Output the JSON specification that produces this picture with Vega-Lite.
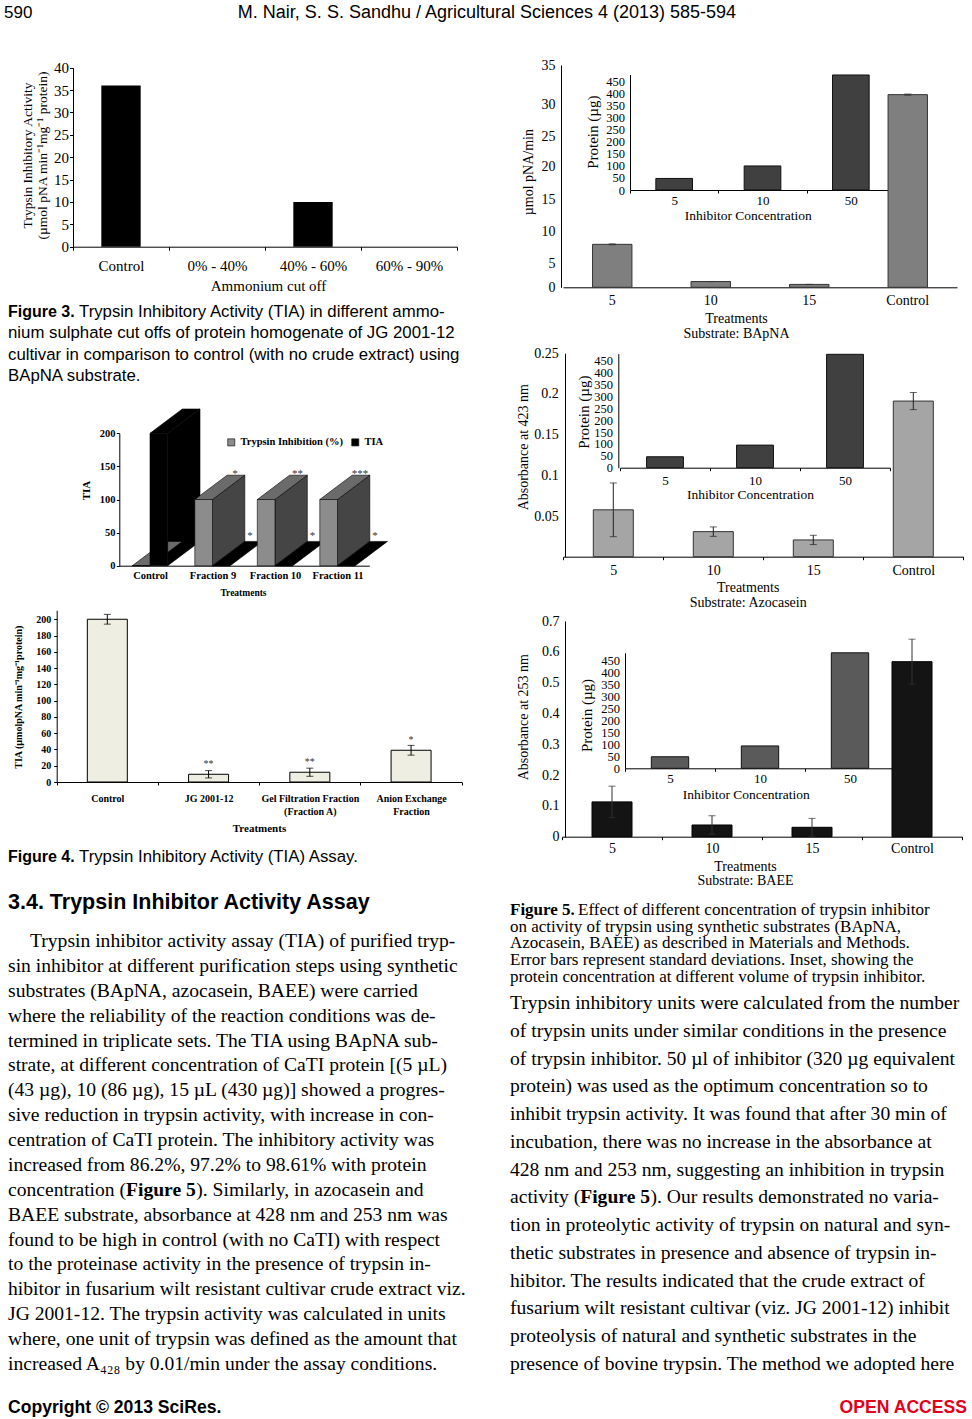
{
"$schema": "https://vega.github.io/schema/vega-lite/v6.json",
"width": 972, "height": 1419,
"autosize": {"type": "none"},
"padding": 0,
"background": "white",
"config": {
 "view": {"stroke": null},
 "axis": {"grid": false, "labelFont": "Liberation Serif", "titleFont": "Liberation Serif", "labelColor": "#000", "titleColor": "#000", "domainColor": "#000", "tickColor": "#000", "titleFontWeight": "normal", "labelOverlap": false, "labelFlush": false, "labelAngle": 0, "domainWidth": 1, "tickWidth": 1, "titlePadding": 0, "titleAnchor": null},
 "text": {"font": "Liberation Serif", "color": "#000"}
},
"resolve": {"scale": {"x": "independent", "y": "independent", "color": "independent", "shape": "independent"}, "axis": {"x": "independent", "y": "independent"}},
"layer": [
 {"data": {"values": [{"text": "590"}]}, "mark": {"type": "text", "align": "left", "baseline": "middle", "font": "Liberation Sans", "fontSize": 17},
  "encoding": {"x": {"datum": 0, "type": "quantitative", "scale": {"domain": [0, 1], "range": [4, 5]}, "axis": null}, "y": {"datum": 0, "type": "quantitative", "scale": {"domain": [0, 1], "range": [13, 14]}, "axis": null}, "text": {"field": "text"}}},
 {"data": {"values": [{"text": "M. Nair, S. S. Sandhu / Agricultural Sciences 4 (2013) 585-594"}]}, "mark": {"type": "text", "align": "center", "baseline": "middle", "font": "Liberation Sans", "fontSize": 18},
  "encoding": {"x": {"datum": 0, "type": "quantitative", "scale": {"domain": [0, 1], "range": [487, 488]}, "axis": null}, "y": {"datum": 0, "type": "quantitative", "scale": {"domain": [0, 1], "range": [13, 14]}, "axis": null}, "text": {"field": "text"}}},

 {"data": {"values": [{"cut": "Control", "tia": 36}, {"cut": "0% - 40%", "tia": 0}, {"cut": "40% - 60%", "tia": 10}, {"cut": "60% - 90%", "tia": 0}]},
  "mark": {"type": "bar", "color": "#000", "width": {"band": 0.41}},
  "encoding": {
   "x": {"field": "cut", "type": "nominal", "sort": null, "scale": {"type": "band", "range": [73, 457], "paddingInner": 0, "paddingOuter": 0},
    "axis": {"orient": "bottom", "offset": -1172.3, "tickBand": "extent", "tickSize": 3.5, "labelFontSize": 15, "labelBaseline": "middle", "labelPadding": 15.5, "title": "Ammonium cut off", "titleFontSize": 15, "titleX": 268, "titleY": 38.3, "titleBaseline": "middle"}},
   "y": {"field": "tia", "type": "quantitative", "scale": {"domain": [0, 40], "range": [246.7, 67.7], "nice": false, "zero": true},
    "axis": {"orient": "left", "offset": -73, "values": [0, 5, 10, 15, 20, 25, 30, 35, 40], "tickSize": 3.5, "labelFontSize": 15, "labelPadding": 1, "title": ["Trypsin Inhibitory Activity", "(µmol pNA min⁻¹mg⁻¹ protein)"], "titleFontSize": 13.5, "titleLineHeight": 15, "titleX": -45.5, "titleY": 155, "titleBaseline": "middle", "titleAngle": -90}}
  }},

 {"data": {"values": [{"text": "Figure 3."}]}, "mark": {"type": "text", "align": "left", "baseline": "middle", "font": "Liberation Sans", "fontSize": 16, "fontWeight": "bold"},
  "encoding": {"x": {"datum": 0, "type": "quantitative", "scale": {"domain": [0, 1], "range": [8, 9]}, "axis": null}, "y": {"datum": 0, "type": "quantitative", "scale": {"domain": [0, 3], "range": [312, 376]}, "axis": null}, "text": {"field": "text"}}},
 {"data": {"values": [{"text": "Trypsin Inhibitory Activity (TIA) in different ammo-"}]}, "mark": {"type": "text", "align": "left", "baseline": "middle", "font": "Liberation Sans", "fontSize": 16.8},
  "encoding": {"x": {"datum": 0, "type": "quantitative", "scale": {"domain": [0, 1], "range": [79, 80]}, "axis": null}, "y": {"datum": 0, "type": "quantitative", "scale": {"domain": [0, 3], "range": [312, 376]}, "axis": null}, "text": {"field": "text"}}},
 {"data": {"values": [{"line": 1, "text": "nium sulphate cut offs of protein homogenate of JG 2001-12"}, {"line": 2, "text": "cultivar in comparison to control (with no crude extract) using"}, {"line": 3, "text": "BApNA substrate."}]},
  "mark": {"type": "text", "align": "left", "baseline": "middle", "font": "Liberation Sans", "fontSize": 16.8},
  "encoding": {"x": {"datum": 0, "type": "quantitative", "scale": {"domain": [0, 1], "range": [8, 9]}, "axis": null}, "y": {"field": "line", "type": "quantitative", "scale": {"domain": [0, 3], "range": [312, 376], "nice": false, "zero": false}, "axis": null}, "text": {"field": "text"}}},

 {"data": {"values": [
   {"treatment": "Control", "series": "Trypsin Inhibition (%)", "value": 0, "sig": ""},
   {"treatment": "Control", "series": "TIA", "value": 200, "sig": ""},
   {"treatment": "Fraction 9", "series": "Trypsin Inhibition (%)", "value": 100, "sig": "*"},
   {"treatment": "Fraction 9", "series": "TIA", "value": 0, "sig": "*"},
   {"treatment": "Fraction 10", "series": "Trypsin Inhibition (%)", "value": 100, "sig": "**"},
   {"treatment": "Fraction 10", "series": "TIA", "value": 0, "sig": "*"},
   {"treatment": "Fraction 11", "series": "Trypsin Inhibition (%)", "value": 100, "sig": "***"},
   {"treatment": "Fraction 11", "series": "TIA", "value": 0, "sig": "*"}]},
  "layer": [
   {"transform": [{"filter": "datum.series === 'Trypsin Inhibition (%)' && datum.value > 0"}],
    "mark": {"type": "point", "filled": true, "size": 4, "opacity": 1, "fill": "#454545", "stroke": "#000", "strokeWidth": 0.6, "xOffset": -9.4},
    "encoding": {
     "x": {"field": "treatment", "type": "nominal", "sort": null, "scale": {"type": "band", "domain": ["Control", "Fraction 9", "Fraction 10", "Fraction 11"], "range": [119.3, 369.3], "paddingInner": 0, "paddingOuter": 0},
      "axis": {"orient": "bottom", "offset": -853.3, "ticks": false, "labelFontWeight": "bold", "labelFontSize": 10.5, "labelBaseline": "middle", "labelPadding": 9.3, "title": "Treatments", "titleFontWeight": "bold", "titleFontSize": 9.5, "titleX": 243, "titleY": 27, "titleBaseline": "middle"}},
     "y": {"field": "value", "type": "quantitative", "scale": {"domain": [0, 200], "range": [565.7, 433.3], "nice": false, "zero": true},
      "axis": {"orient": "left", "offset": -119.3, "values": [0, 50, 100, 150, 200], "tickSize": 3, "labelFontWeight": "bold", "labelFontSize": 10.5, "labelPadding": 1.3, "title": "TIA", "titleFontWeight": "bold", "titleFontSize": 11, "titleX": -32.6, "titleY": 490, "titleBaseline": "middle", "titleAngle": -90}},
     "shape": {"field": "value", "type": "nominal", "scale": {"domain": [100, 200], "range": ["M8.85,0L41.15,-24.3L41.15,41.9L8.85,66.2Z", "M8.85,0L41.15,-24.3L41.15,108.1L8.85,132.4Z"]}, "legend": null}}},
   {"transform": [{"filter": "datum.series === 'TIA' && datum.value > 0"}],
    "mark": {"type": "point", "filled": true, "size": 4, "opacity": 1, "fill": "#000", "stroke": "#000", "strokeWidth": 0.6, "xOffset": 8.3},
    "encoding": {"x": {"field": "treatment", "type": "nominal", "sort": null}, "y": {"field": "value", "type": "quantitative", "title": "TIA"},
     "shape": {"field": "value", "type": "nominal", "legend": null}}},
   {"transform": [{"filter": "datum.series === 'Trypsin Inhibition (%)'"}],
    "mark": {"type": "point", "filled": true, "size": 4, "opacity": 1, "fill": "#6b6b6b", "stroke": "#000", "strokeWidth": 0.6, "xOffset": -9.4, "shape": "M-8.85,0L8.85,0L41.15,-24.3L23.45,-24.3Z"},
    "encoding": {"x": {"field": "treatment", "type": "nominal", "sort": null}, "y": {"field": "value", "type": "quantitative", "title": "TIA"}}},
   {"transform": [{"filter": "datum.series === 'TIA'"}],
    "mark": {"type": "point", "filled": true, "size": 4, "opacity": 1, "fill": "#000", "stroke": "#000", "strokeWidth": 0.6, "xOffset": 8.3, "shape": "M-8.85,0L8.85,0L41.15,-24.3L23.45,-24.3Z"},
    "encoding": {"x": {"field": "treatment", "type": "nominal", "sort": null}, "y": {"field": "value", "type": "quantitative", "title": "TIA"}}},
   {"transform": [{"filter": "datum.series === 'Trypsin Inhibition (%)'"}],
    "mark": {"type": "bar", "width": 17.7, "xOffset": -9.4, "stroke": "#000", "strokeWidth": 0.6},
    "encoding": {"x": {"field": "treatment", "type": "nominal", "sort": null}, "y": {"field": "value", "type": "quantitative", "title": "TIA"},
     "color": {"field": "series", "type": "nominal", "scale": {"domain": ["Trypsin Inhibition (%)", "TIA"], "range": ["#8c8c8c", "#000000"]},
      "legend": {"orient": "none", "legendX": 226, "legendY": 437, "direction": "horizontal", "title": null, "symbolType": "square", "symbolSize": 50, "symbolStrokeColor": "#000", "symbolStrokeWidth": 0.6, "labelFont": "Liberation Serif", "labelFontWeight": "bold", "labelFontSize": 10.5, "labelColor": "#000", "labelOffset": 4, "columnPadding": 6, "labelLimit": 200}}}},
   {"transform": [{"filter": "datum.series === 'TIA'"}],
    "mark": {"type": "bar", "width": 17.7, "xOffset": 8.3, "stroke": "#000", "strokeWidth": 0.6},
    "encoding": {"x": {"field": "treatment", "type": "nominal", "sort": null}, "y": {"field": "value", "type": "quantitative", "title": "TIA"},
     "color": {"field": "series", "type": "nominal"}}},
   {"transform": [{"filter": "datum.series === 'Trypsin Inhibition (%)'"}],
    "mark": {"type": "text", "fontSize": 11, "color": "#333", "dx": 22, "dy": -25.5, "baseline": "middle"},
    "encoding": {"x": {"field": "treatment", "type": "nominal", "sort": null}, "y": {"field": "value", "type": "quantitative", "title": "TIA"}, "text": {"field": "sig"}}},
   {"transform": [{"filter": "datum.series === 'TIA'"}],
    "mark": {"type": "text", "fontSize": 11, "color": "#333", "dx": 37, "dy": -29.7, "baseline": "middle"},
    "encoding": {"x": {"field": "treatment", "type": "nominal", "sort": null}, "y": {"field": "value", "type": "quantitative", "title": "TIA"}, "text": {"field": "sig"}}}
  ]},

 {"data": {"values": [
   {"treatment": "Control", "tia": 200, "sd": 6, "sig": ""},
   {"treatment": "JG 2001-12", "tia": 9.5, "sd": 4.5, "sig": "**"},
   {"treatment": "Gel Filtration Fraction (Fraction A)", "tia": 12, "sd": 5, "sig": "**"},
   {"treatment": "Anion Exchange Fraction", "tia": 39, "sd": 6, "sig": "*"}]},
  "layer": [
   {"mark": {"type": "bar", "fill": "#efeee2", "stroke": "#000", "strokeWidth": 1, "width": {"band": 0.395}},
    "encoding": {
     "x": {"field": "treatment", "type": "nominal", "sort": null, "scale": {"type": "band", "range": [56.7, 461.7], "paddingInner": 0, "paddingOuter": 0},
      "axis": {"orient": "bottom", "offset": -637, "tickBand": "extent", "tickSize": 3, "labelFontWeight": "bold", "labelFontSize": 10, "labelBaseline": "top", "labelPadding": 8.4, "labelLineHeight": 13,
       "labelExpr": "datum.label == 'Gel Filtration Fraction (Fraction A)' ? ['Gel Filtration Fraction', '(Fraction A)'] : datum.label == 'Anion Exchange Fraction' ? ['Anion Exchange', 'Fraction'] : datum.label",
       "title": "Treatments", "titleFontWeight": "bold", "titleFontSize": 11, "titleX": 259, "titleY": 46, "titleBaseline": "middle"}},
     "y": {"field": "tia", "type": "quantitative", "title": "TIA (µmolpNA min⁻¹mg⁻¹protein)", "scale": {"domain": [0, 211], "range": [782, 610.3], "nice": false, "zero": true},
      "axis": {"orient": "left", "offset": -56.7, "values": [0, 20, 40, 60, 80, 100, 120, 140, 160, 180, 200], "tickSize": 3, "labelFontWeight": "bold", "labelFontSize": 10, "labelPadding": 3, "titleFontWeight": "bold", "titleFontSize": 10, "titleX": -38.4, "titleY": 696.7, "titleBaseline": "middle", "titleAngle": -90}}}},
   {"mark": {"type": "errorbar", "color": "#000", "thickness": 1, "ticks": {"size": 7, "color": "#000"}},
    "encoding": {"x": {"field": "treatment", "type": "nominal", "sort": null}, "y": {"field": "tia", "type": "quantitative", "title": "TIA (µmolpNA min⁻¹mg⁻¹protein)"}, "yError": {"field": "sd"}}},
   {"mark": {"type": "text", "fontSize": 10, "color": "#333", "dy": -9.8, "baseline": "middle"},
    "encoding": {"x": {"field": "treatment", "type": "nominal", "sort": null}, "y": {"field": "tia", "type": "quantitative", "title": "TIA (µmolpNA min⁻¹mg⁻¹protein)"}, "text": {"field": "sig"}}}
  ]},

 {"data": {"values": [{"text": "Figure 4."}]}, "mark": {"type": "text", "align": "left", "baseline": "middle", "font": "Liberation Sans", "fontSize": 16, "fontWeight": "bold"},
  "encoding": {"x": {"datum": 0, "type": "quantitative", "scale": {"domain": [0, 1], "range": [8, 9]}, "axis": null}, "y": {"datum": 0, "type": "quantitative", "scale": {"domain": [0, 1], "range": [857, 858]}, "axis": null}, "text": {"field": "text"}}},
 {"data": {"values": [{"text": "Trypsin Inhibitory Activity (TIA) Assay."}]}, "mark": {"type": "text", "align": "left", "baseline": "middle", "font": "Liberation Sans", "fontSize": 16.8},
  "encoding": {"x": {"datum": 0, "type": "quantitative", "scale": {"domain": [0, 1], "range": [79, 80]}, "axis": null}, "y": {"datum": 0, "type": "quantitative", "scale": {"domain": [0, 1], "range": [857, 858]}, "axis": null}, "text": {"field": "text"}}},
 {"data": {"values": [{"text": "3.4. Trypsin Inhibitor Activity Assay"}]}, "mark": {"type": "text", "align": "left", "baseline": "middle", "font": "Liberation Sans", "fontSize": 21.5, "fontWeight": "bold"},
  "encoding": {"x": {"datum": 0, "type": "quantitative", "scale": {"domain": [0, 1], "range": [8, 9]}, "axis": null}, "y": {"datum": 0, "type": "quantitative", "scale": {"domain": [0, 1], "range": [903, 904]}, "axis": null}, "text": {"field": "text"}}},

 {"data": {"values": [{"text": "Trypsin inhibitor activity assay (TIA) of purified tryp-"}]}, "mark": {"type": "text", "align": "left", "baseline": "middle", "fontSize": 19.6},
  "encoding": {"x": {"datum": 0, "type": "quantitative", "scale": {"domain": [0, 1], "range": [30, 31]}, "axis": null}, "y": {"datum": 0, "type": "quantitative", "scale": {"domain": [0, 17], "range": [941, 1364]}, "axis": null}, "text": {"field": "text"}}},
 {"data": {"values": [
   {"line": 1, "text": "sin inhibitor at different purification steps using synthetic"},
   {"line": 2, "text": "substrates (BApNA, azocasein, BAEE) were carried"},
   {"line": 3, "text": "where the reliability of the reaction conditions was de-"},
   {"line": 4, "text": "termined in triplicate sets. The TIA using BApNA sub-"},
   {"line": 5, "text": "strate, at different concentration of CaTI protein [(5 µL)"},
   {"line": 6, "text": "(43 µg), 10 (86 µg), 15 µL (430 µg)] showed a progres-"},
   {"line": 7, "text": "sive reduction in trypsin activity, with increase in con-"},
   {"line": 8, "text": "centration of CaTI protein. The inhibitory activity was"},
   {"line": 9, "text": "increased from 86.2%, 97.2% to 98.61% with protein"},
   {"line": 11, "text": "BAEE substrate, absorbance at 428 nm and 253 nm was"},
   {"line": 12, "text": "found to be high in control (with no CaTI) with respect"},
   {"line": 13, "text": "to the proteinase activity in the presence of trypsin in-"},
   {"line": 14, "text": "hibitor in fusarium wilt resistant cultivar crude extract viz."},
   {"line": 15, "text": "JG 2001-12. The trypsin activity was calculated in units"},
   {"line": 16, "text": "where, one unit of trypsin was defined as the amount that"},
   {"line": 17, "text": "increased A₄₂₈ by 0.01/min under the assay conditions."}]},
  "mark": {"type": "text", "align": "left", "baseline": "middle", "fontSize": 19.6},
  "encoding": {"x": {"datum": 0, "type": "quantitative", "scale": {"domain": [0, 1], "range": [8, 9]}, "axis": null}, "y": {"field": "line", "type": "quantitative", "scale": {"domain": [0, 17], "range": [941, 1364], "nice": false, "zero": false}, "axis": null}, "text": {"field": "text"}}},
 {"data": {"values": [{"text": "concentration ("}]}, "mark": {"type": "text", "align": "left", "baseline": "middle", "fontSize": 19.6},
  "encoding": {"x": {"datum": 0, "type": "quantitative", "scale": {"domain": [0, 1], "range": [8, 9]}, "axis": null}, "y": {"datum": 10, "type": "quantitative", "scale": {"domain": [0, 17], "range": [941, 1364]}, "axis": null}, "text": {"field": "text"}}},
 {"data": {"values": [{"text": "Figure 5"}]}, "mark": {"type": "text", "align": "left", "baseline": "middle", "fontSize": 19.6, "fontWeight": "bold"},
  "encoding": {"x": {"datum": 0, "type": "quantitative", "scale": {"domain": [0, 1], "range": [126, 127]}, "axis": null}, "y": {"datum": 10, "type": "quantitative", "scale": {"domain": [0, 17], "range": [941, 1364]}, "axis": null}, "text": {"field": "text"}}},
 {"data": {"values": [{"text": "). Similarly, in azocasein and"}]}, "mark": {"type": "text", "align": "left", "baseline": "middle", "fontSize": 19.6},
  "encoding": {"x": {"datum": 0, "type": "quantitative", "scale": {"domain": [0, 1], "range": [196.3, 197.3]}, "axis": null}, "y": {"datum": 10, "type": "quantitative", "scale": {"domain": [0, 17], "range": [941, 1364]}, "axis": null}, "text": {"field": "text"}}},

 {"data": {"values": [
   {"line": 0, "text": "Trypsin inhibitory units were calculated from the number"},
   {"line": 1, "text": "of trypsin units under similar conditions in the presence"},
   {"line": 2, "text": "of trypsin inhibitor. 50 µl of inhibitor (320 µg equivalent"},
   {"line": 3, "text": "protein) was used as the optimum concentration so to"},
   {"line": 4, "text": "inhibit trypsin activity. It was found that after 30 min of"},
   {"line": 5, "text": "incubation, there was no increase in the absorbance at"},
   {"line": 6, "text": "428 nm and 253 nm, suggesting an inhibition in trypsin"},
   {"line": 8, "text": "tion in proteolytic activity of trypsin on natural and syn-"},
   {"line": 9, "text": "thetic substrates in presence and absence of trypsin in-"},
   {"line": 10, "text": "hibitor. The results indicated that the crude extract of"},
   {"line": 11, "text": "fusarium wilt resistant cultivar (viz. JG 2001-12) inhibit"},
   {"line": 12, "text": "proteolysis of natural and synthetic substrates in the"},
   {"line": 13, "text": "presence of bovine trypsin. The method we adopted here"}]},
  "mark": {"type": "text", "align": "left", "baseline": "middle", "fontSize": 19.6},
  "encoding": {"x": {"datum": 0, "type": "quantitative", "scale": {"domain": [0, 1], "range": [510, 511]}, "axis": null}, "y": {"field": "line", "type": "quantitative", "scale": {"domain": [0, 13], "range": [1003, 1364], "nice": false, "zero": false}, "axis": null}, "text": {"field": "text"}}},
 {"data": {"values": [{"text": "activity ("}]}, "mark": {"type": "text", "align": "left", "baseline": "middle", "fontSize": 19.6},
  "encoding": {"x": {"datum": 0, "type": "quantitative", "scale": {"domain": [0, 1], "range": [510, 511]}, "axis": null}, "y": {"datum": 7, "type": "quantitative", "scale": {"domain": [0, 13], "range": [1003, 1364]}, "axis": null}, "text": {"field": "text"}}},
 {"data": {"values": [{"text": "Figure 5"}]}, "mark": {"type": "text", "align": "left", "baseline": "middle", "fontSize": 19.6, "fontWeight": "bold"},
  "encoding": {"x": {"datum": 0, "type": "quantitative", "scale": {"domain": [0, 1], "range": [580.2, 581.2]}, "axis": null}, "y": {"datum": 7, "type": "quantitative", "scale": {"domain": [0, 13], "range": [1003, 1364]}, "axis": null}, "text": {"field": "text"}}},
 {"data": {"values": [{"text": "). Our results demonstrated no varia-"}]}, "mark": {"type": "text", "align": "left", "baseline": "middle", "fontSize": 19.6},
  "encoding": {"x": {"datum": 0, "type": "quantitative", "scale": {"domain": [0, 1], "range": [650.5, 651.5]}, "axis": null}, "y": {"datum": 7, "type": "quantitative", "scale": {"domain": [0, 13], "range": [1003, 1364]}, "axis": null}, "text": {"field": "text"}}},

 {"data": {"values": [{"text": "Figure 5."}]}, "mark": {"type": "text", "align": "left", "baseline": "middle", "fontSize": 17, "fontWeight": "bold"},
  "encoding": {"x": {"datum": 0, "type": "quantitative", "scale": {"domain": [0, 1], "range": [510, 511]}, "axis": null}, "y": {"datum": 0, "type": "quantitative", "scale": {"domain": [0, 4], "range": [910, 976.8]}, "axis": null}, "text": {"field": "text"}}},
 {"data": {"values": [{"text": "Effect of different concentration of trypsin inhibitor"}]}, "mark": {"type": "text", "align": "left", "baseline": "middle", "fontSize": 17},
  "encoding": {"x": {"datum": 0, "type": "quantitative", "scale": {"domain": [0, 1], "range": [578, 579]}, "axis": null}, "y": {"datum": 0, "type": "quantitative", "scale": {"domain": [0, 4], "range": [910, 976.8]}, "axis": null}, "text": {"field": "text"}}},
 {"data": {"values": [
   {"line": 1, "text": "on activity of trypsin using synthetic substrates (BApNA,"},
   {"line": 2, "text": "Azocasein, BAEE) as described in Materials and Methods."},
   {"line": 3, "text": "Error bars represent standard deviations. Inset, showing the"},
   {"line": 4, "text": "protein concentration at different volume of trypsin inhibitor."}]},
  "mark": {"type": "text", "align": "left", "baseline": "middle", "fontSize": 17},
  "encoding": {"x": {"datum": 0, "type": "quantitative", "scale": {"domain": [0, 1], "range": [510, 511]}, "axis": null}, "y": {"field": "line", "type": "quantitative", "scale": {"domain": [0, 4], "range": [910, 976.8], "nice": false, "zero": false}, "axis": null}, "text": {"field": "text"}}},

 {"data": {"values": [{"t": "5", "v": 8.0, "sd": 0.08}, {"t": "10", "v": 1.2, "sd": 0}, {"t": "15", "v": 0.6, "sd": 0}, {"t": "Control", "v": 31.2, "sd": 0.08}]},
  "layer": [
   {"mark": {"type": "bar", "fill": "#7f7f7f", "stroke": "#333", "strokeWidth": 1, "width": {"band": 0.4}},
    "encoding": {
     "x": {"field": "t", "type": "nominal", "sort": null, "scale": {"type": "band", "range": [563, 957], "paddingInner": 0, "paddingOuter": 0},
      "axis": {"orient": "bottom", "offset": -1131.7, "ticks": false, "labelFontSize": 14, "labelBaseline": "middle", "labelPadding": 13, "title": ["Treatments", "Substrate: BApNA"], "titleFontSize": 14, "titleLineHeight": 15, "titleX": 736, "titleY": 24.6, "titleBaseline": "top"}},
     "y": {"field": "v", "type": "quantitative", "title": "µmol pNA/min", "scale": {"domain": [0, 5, 10, 15, 20, 25, 30, 35], "range": [287.3, 263.3, 231.7, 199, 166.7, 136.7, 104, 65], "nice": false, "zero": false},
      "axis": {"orient": "left", "offset": -561, "values": [0, 5, 10, 15, 20, 25, 30, 35], "ticks": false, "labelFontSize": 14, "labelPadding": 6, "titleFontSize": 14, "titleX": -32.7, "titleY": 171.7, "titleBaseline": "middle", "titleAngle": -90}}}},
   {"mark": {"type": "errorbar", "color": "#333", "thickness": 1, "ticks": {"size": 7, "color": "#333"}},
    "encoding": {"x": {"field": "t", "type": "nominal", "sort": null}, "y": {"field": "v", "type": "quantitative", "title": "µmol pNA/min"}, "yError": {"field": "sd"}}}
  ]},
 {"data": {"values": [{"c": "5", "p": 48}, {"c": "10", "p": 100}, {"c": "50", "p": 478}]},
  "mark": {"type": "bar", "fill": "#404040", "stroke": "#111", "strokeWidth": 1, "width": {"band": 0.415}},
  "encoding": {
   "x": {"field": "c", "type": "nominal", "sort": null, "scale": {"type": "band", "range": [630, 895], "paddingInner": 0, "paddingOuter": 0},
    "axis": {"orient": "bottom", "offset": -1229, "tickBand": "extent", "tickSize": 3, "labelFontSize": 13, "labelBaseline": "middle", "labelPadding": 7, "title": "Inhibitor Concentration", "titleFontSize": 13.5, "titleX": 747.7, "titleY": 25, "titleBaseline": "middle"}},
   "y": {"field": "p", "type": "quantitative", "scale": {"domain": [0, 480], "range": [190, 74.5], "nice": false, "zero": true},
    "axis": {"orient": "left", "offset": -630, "values": [0, 50, 100, 150, 200, 250, 300, 350, 400, 450], "ticks": false, "labelFontSize": 12.5, "labelPadding": 5.5, "title": "Protein (µg)", "titleFontSize": 15, "titleX": -37.7, "titleY": 131.7, "titleBaseline": "middle", "titleAngle": -90}}}},

 {"data": {"values": [{"t": "5", "v": 0.0576, "sd": 0.033}, {"t": "10", "v": 0.0308, "sd": 0.0058}, {"t": "15", "v": 0.0206, "sd": 0.0057}, {"t": "Control", "v": 0.1912, "sd": 0.0105}]},
  "layer": [
   {"mark": {"type": "bar", "fill": "#a5a5a5", "stroke": "#333", "strokeWidth": 1, "width": {"band": 0.4}},
    "encoding": {
     "x": {"field": "t", "type": "nominal", "sort": null, "scale": {"type": "band", "range": [563.3, 963.3], "paddingInner": 0, "paddingOuter": 0},
      "axis": {"orient": "bottom", "offset": -862.3, "tickBand": "extent", "tickSize": 3, "labelFontSize": 14, "labelBaseline": "middle", "labelPadding": 10.3, "title": ["Treatments", "Substrate: Azocasein"], "titleFontSize": 14, "titleLineHeight": 15, "titleX": 747.7, "titleY": 24, "titleBaseline": "top"}},
     "y": {"field": "v", "type": "quantitative", "title": "Absorbance at 423 nm", "scale": {"domain": [0, 0.25], "range": [556.7, 353.2], "nice": false, "zero": true},
      "axis": {"orient": "left", "offset": -565, "values": [0.05, 0.1, 0.15, 0.2, 0.25], "format": "~g", "ticks": false, "labelFontSize": 14, "labelPadding": 6.7, "titleFontSize": 14, "titleX": -41.7, "titleY": 446.7, "titleBaseline": "middle", "titleAngle": -90}}}},
   {"mark": {"type": "errorbar", "color": "#222", "thickness": 1, "ticks": {"size": 7, "color": "#222"}},
    "encoding": {"x": {"field": "t", "type": "nominal", "sort": null}, "y": {"field": "v", "type": "quantitative", "title": "Absorbance at 423 nm"}, "yError": {"field": "sd"}}}
  ]},
 {"data": {"values": [{"c": "5", "p": 46}, {"c": "10", "p": 95}, {"c": "50", "p": 477}]},
  "mark": {"type": "bar", "fill": "#404040", "stroke": "#111", "strokeWidth": 1, "width": {"band": 0.41}},
  "encoding": {
   "x": {"field": "c", "type": "nominal", "sort": null, "scale": {"type": "band", "range": [620, 890], "paddingInner": 0, "paddingOuter": 0},
    "axis": {"orient": "bottom", "offset": -951.3, "tickBand": "extent", "tickSize": 3, "labelFontSize": 13, "labelBaseline": "middle", "labelPadding": 9.3, "title": "Inhibitor Concentration", "titleFontSize": 13.5, "titleX": 750, "titleY": 26.3, "titleBaseline": "middle"}},
   "y": {"field": "p", "type": "quantitative", "scale": {"domain": [0, 480], "range": [467.7, 353.6], "nice": false, "zero": true},
    "axis": {"orient": "left", "offset": -618.3, "values": [0, 50, 100, 150, 200, 250, 300, 350, 400, 450], "ticks": false, "labelFontSize": 12.5, "labelPadding": 5.7, "title": "Protein (µg)", "titleFontSize": 15, "titleX": -35, "titleY": 411.7, "titleBaseline": "middle", "titleAngle": -90}}}},

 {"data": {"values": [{"t": "5", "v": 0.113, "sd": 0.051}, {"t": "10", "v": 0.038, "sd": 0.03}, {"t": "15", "v": 0.0305, "sd": 0.029}, {"t": "Control", "v": 0.568, "sd": 0.073}]},
  "layer": [
   {"mark": {"type": "bar", "fill": "#141414", "stroke": "#000", "strokeWidth": 1, "width": {"band": 0.4}},
    "encoding": {
     "x": {"field": "t", "type": "nominal", "sort": null, "scale": {"type": "band", "range": [562, 962], "paddingInner": 0, "paddingOuter": 0},
      "axis": {"orient": "bottom", "offset": -582.3, "tickBand": "extent", "tickSize": 3, "labelFontSize": 14, "labelBaseline": "middle", "labelPadding": 8.6, "title": ["Treatments", "Substrate: BAEE"], "titleFontSize": 14, "titleLineHeight": 14.5, "titleX": 745, "titleY": 22.3, "titleBaseline": "top"}},
     "y": {"field": "v", "type": "quantitative", "title": "Absorbance at 253 nm", "scale": {"domain": [0, 0.7], "range": [836.7, 621], "nice": false, "zero": true},
      "axis": {"orient": "left", "offset": -565, "values": [0, 0.1, 0.2, 0.3, 0.4, 0.5, 0.6, 0.7], "format": "~g", "ticks": false, "labelFontSize": 14, "labelPadding": 6, "titleFontSize": 14, "titleX": -41.7, "titleY": 716.7, "titleBaseline": "middle", "titleAngle": -90}}}},
   {"mark": {"type": "errorbar", "color": "#333", "thickness": 1, "ticks": {"size": 7, "color": "#333"}},
    "encoding": {"x": {"field": "t", "type": "nominal", "sort": null}, "y": {"field": "v", "type": "quantitative", "title": "Absorbance at 253 nm"}, "yError": {"field": "sd"}}}
  ]},
 {"data": {"values": [{"c": "5", "p": 48}, {"c": "10", "p": 93}, {"c": "50", "p": 480}]},
  "mark": {"type": "bar", "fill": "#5a5a5a", "stroke": "#111", "strokeWidth": 1, "width": {"band": 0.415}},
  "encoding": {
   "x": {"field": "c", "type": "nominal", "sort": null, "scale": {"type": "band", "range": [625, 895], "paddingInner": 0, "paddingOuter": 0},
    "axis": {"orient": "bottom", "offset": -650.7, "tickBand": "extent", "tickSize": 3, "labelFontSize": 13, "labelBaseline": "middle", "labelPadding": 7, "title": "Inhibitor Concentration", "titleFontSize": 13.5, "titleX": 745.7, "titleY": 25.7, "titleBaseline": "middle"}},
   "y": {"field": "p", "type": "quantitative", "scale": {"domain": [0, 480], "range": [768.3, 652.8], "nice": false, "zero": true},
    "axis": {"orient": "left", "offset": -625, "values": [0, 50, 100, 150, 200, 250, 300, 350, 400, 450], "ticks": false, "labelFontSize": 12.5, "labelPadding": 5.5, "title": "Protein (µg)", "titleFontSize": 15, "titleX": -38.3, "titleY": 715, "titleBaseline": "middle", "titleAngle": -90}}}},

 {"data": {"values": [{"text": "Copyright © 2013 SciRes."}]}, "mark": {"type": "text", "align": "left", "baseline": "middle", "font": "Liberation Sans", "fontSize": 17.6, "fontWeight": "bold"},
  "encoding": {"x": {"datum": 0, "type": "quantitative", "scale": {"domain": [0, 1], "range": [8, 9]}, "axis": null}, "y": {"datum": 0, "type": "quantitative", "scale": {"domain": [0, 1], "range": [1408, 1409]}, "axis": null}, "text": {"field": "text"}}},
 {"data": {"values": [{"text": "OPEN ACCESS"}]}, "mark": {"type": "text", "align": "right", "baseline": "middle", "font": "Liberation Sans", "fontSize": 17.6, "fontWeight": "bold", "color": "#e3001b"},
  "encoding": {"x": {"datum": 0, "type": "quantitative", "scale": {"domain": [0, 1], "range": [967, 968]}, "axis": null}, "y": {"datum": 0, "type": "quantitative", "scale": {"domain": [0, 1], "range": [1408, 1409]}, "axis": null}, "text": {"field": "text"}}}
]
}
